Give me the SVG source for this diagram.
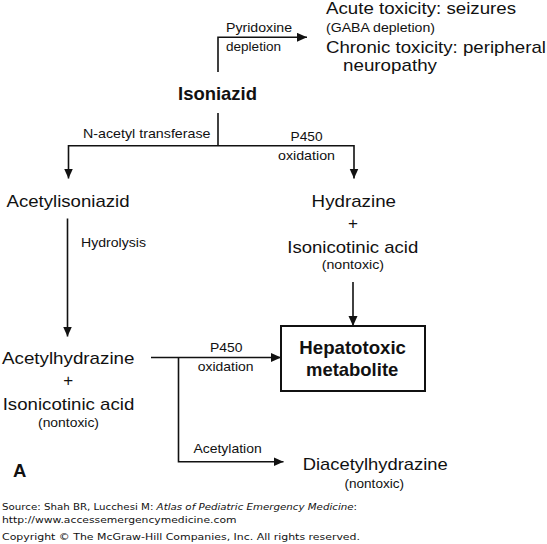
<svg xmlns="http://www.w3.org/2000/svg" width="547" height="544" viewBox="0 0 547 544">
<defs>
<style>
text{font-family:"Liberation Sans",Arial,sans-serif;fill:#111}
.big{font-size:17px}
.sm{font-size:13.5px}
.xs{font-size:12.5px}
.b{font-size:18.5px;font-weight:bold}
.foot{font-family:"DejaVu Sans",Verdana,sans-serif;font-size:9.5px}
.ln{fill:none;stroke:#111;stroke-width:1.6}
</style>
<marker id="ah" markerUnits="userSpaceOnUse" markerWidth="11" markerHeight="10" refX="10" refY="4.5" orient="auto">
<path d="M0,0 L10,4.5 L0,9 z" fill="#111"/>
</marker>
</defs>
<rect width="547" height="544" fill="#fff"/>
<g id="connectors">
<path class="ln" d="M218,72 V37.3 H307" marker-end="url(#ah)"/>
<path class="ln" d="M218,113 V145.7"/>
<path class="ln" d="M218,145.7 H68.5 V178.5" marker-end="url(#ah)"/>
<path class="ln" d="M218,145.7 H354 V178.5" marker-end="url(#ah)"/>
<path class="ln" d="M67.5,218.5 V336.5" marker-end="url(#ah)"/>
<path class="ln" d="M353,282 V326" marker-end="url(#ah)"/>
<path class="ln" d="M151,357.5 H281" marker-end="url(#ah)"/>
<path class="ln" d="M178.5,357.5 V461.7 H283.5" marker-end="url(#ah)"/>
<text class="sm" x="226" y="32" textLength="66" lengthAdjust="spacingAndGlyphs">Pyridoxine</text>
<text class="sm" x="226" y="50.5" textLength="55" lengthAdjust="spacingAndGlyphs">depletion</text>
<text class="sm" x="83" y="138.3" textLength="127.5" lengthAdjust="spacingAndGlyphs">N-acetyl transferase</text>
<text class="sm" x="290.5" y="140.7" textLength="32" lengthAdjust="spacingAndGlyphs">P450</text>
<text class="sm" x="278" y="160" textLength="57" lengthAdjust="spacingAndGlyphs">oxidation</text>
<text class="sm" x="81" y="246.7" textLength="65" lengthAdjust="spacingAndGlyphs">Hydrolysis</text>
<text class="sm" x="210" y="352" textLength="32.5" lengthAdjust="spacingAndGlyphs">P450</text>
<text class="sm" x="197.7" y="371" textLength="55.8" lengthAdjust="spacingAndGlyphs">oxidation</text>
<text class="sm" x="193.4" y="453.3" textLength="68.3" lengthAdjust="spacingAndGlyphs">Acetylation</text>
</g>
<g id="isoniazid">
<text class="b" x="178" y="100" textLength="79" lengthAdjust="spacingAndGlyphs">Isoniazid</text>
</g>
<g id="toxicity">
<text class="big" x="326" y="13.5" textLength="190" lengthAdjust="spacingAndGlyphs">Acute toxicity: seizures</text>
<text class="xs" x="326" y="32" textLength="109" lengthAdjust="spacingAndGlyphs">(GABA depletion)</text>
<text class="big" x="326" y="52.5" textLength="220" lengthAdjust="spacingAndGlyphs">Chronic toxicity: peripheral</text>
<text class="big" x="343" y="70.5" textLength="94" lengthAdjust="spacingAndGlyphs">neuropathy</text>
</g>
<g id="acetylisoniazid">
<text class="big" x="6.5" y="206.5" textLength="123" lengthAdjust="spacingAndGlyphs">Acetylisoniazid</text>
</g>
<g id="hydrazine">
<text class="big" x="311.6" y="206.5" textLength="84.4" lengthAdjust="spacingAndGlyphs">Hydrazine</text>
<text class="big" x="353" y="228.5" text-anchor="middle">+</text>
<text class="big" x="287.3" y="252.5" textLength="131" lengthAdjust="spacingAndGlyphs">Isonicotinic acid</text>
<text class="sm" x="321.7" y="269.3" textLength="62.3" lengthAdjust="spacingAndGlyphs">(nontoxic)</text>
</g>
<g id="hepatotoxic">
<rect x="281" y="326" width="144" height="65" fill="none" stroke="#111" stroke-width="2"/>
<text class="b" x="299.3" y="354.3" textLength="106.7" lengthAdjust="spacingAndGlyphs">Hepatotoxic</text>
<text class="b" x="306" y="376" textLength="92.3" lengthAdjust="spacingAndGlyphs">metabolite</text>
</g>
<g id="acetylhydrazine">
<text class="big" x="2" y="363.5" textLength="132.5" lengthAdjust="spacingAndGlyphs">Acetylhydrazine</text>
<text class="big" x="68.3" y="385.5" text-anchor="middle">+</text>
<text class="big" x="2.7" y="410" textLength="131.6" lengthAdjust="spacingAndGlyphs">Isonicotinic acid</text>
<text class="sm" x="38" y="427.3" textLength="61" lengthAdjust="spacingAndGlyphs">(nontoxic)</text>
</g>
<g id="diacetylhydrazine">
<text class="big" x="302.7" y="469.5" textLength="145" lengthAdjust="spacingAndGlyphs">Diacetylhydrazine</text>
<text class="sm" x="344.5" y="488" textLength="59.5" lengthAdjust="spacingAndGlyphs">(nontoxic)</text>
</g>
<g id="panel-label">
<text class="b" x="13" y="477.3">A</text>
</g>
<g id="footer">
<text class="foot" x="2" y="510" textLength="355" lengthAdjust="spacingAndGlyphs">Source: Shah BR, Lucchesi M: <tspan font-style="italic">Atlas of Pediatric Emergency Medicine</tspan>:</text>
<text class="foot" x="2" y="522.7" textLength="234.5" lengthAdjust="spacingAndGlyphs">http://www.accessemergencymedicine.com</text>
<text class="foot" x="2" y="540" textLength="358" lengthAdjust="spacingAndGlyphs">Copyright © The McGraw-Hill Companies, Inc. All rights reserved.</text>
</g>
</svg>
